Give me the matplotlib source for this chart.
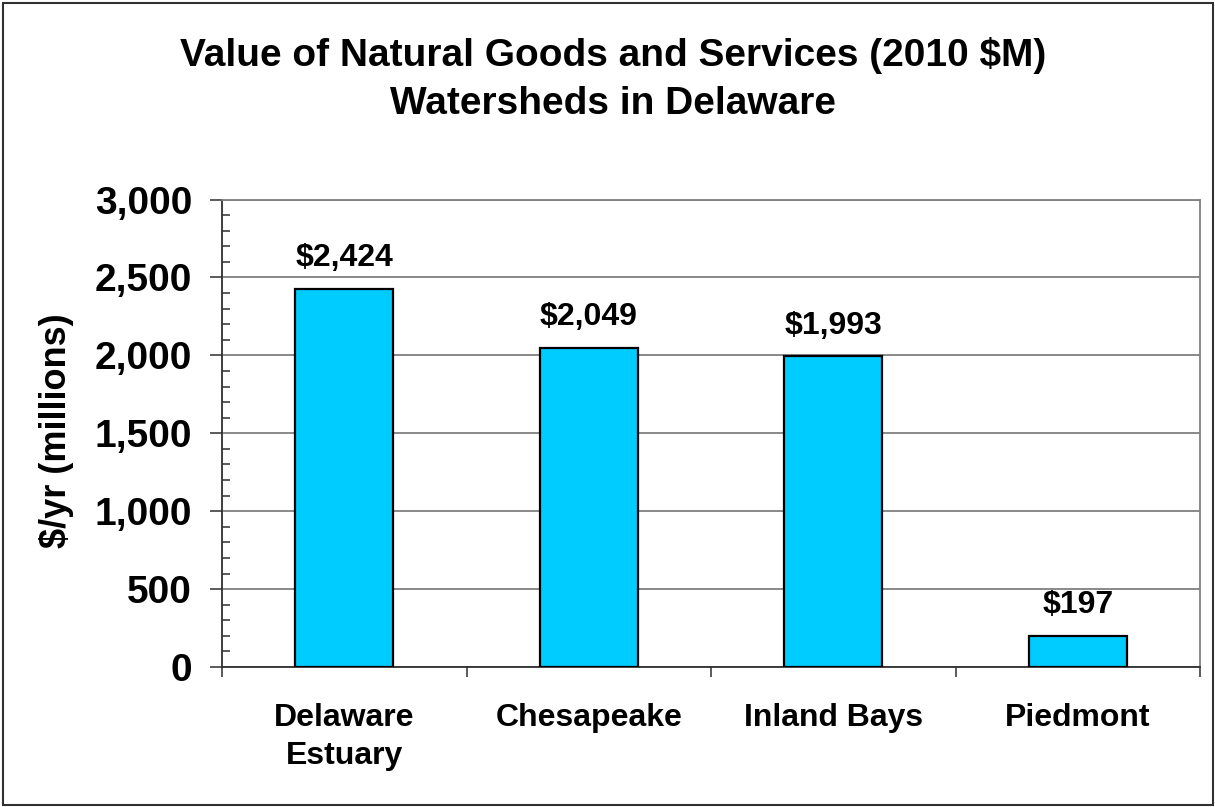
import matplotlib
matplotlib.use("Agg")
import matplotlib.pyplot as plt
from matplotlib.ticker import MultipleLocator, FuncFormatter, FixedLocator, NullFormatter
from matplotlib.patches import Rectangle

# Watershed values (2010 $M per year)
watersheds = ["Delaware\nEstuary", "Chesapeake", "Inland Bays", "Piedmont"]
values = [2424, 2049, 1993, 197]
value_labels = ["$2,424", "$2,049", "$1,993", "$197"]

title_lines = ["Value of Natural Goods and Services (2010 $M)", "Watersheds in Delaware"]
y_label = "$/yr (millions)"

plt.rcParams["font.family"] = ["Liberation Sans", "DejaVu Sans"]
plt.rcParams["font.weight"] = "bold"

W, H = 1215, 807
fig = plt.figure(figsize=(W / 100, H / 100), dpi=100)
fig.patch.set_facecolor("white")

ax = fig.add_axes([222 / W, 1 - 667 / H, (1200 - 222) / W, (667 - 199.5) / H])

x = list(range(len(values)))
ax.bar(x, values, width=0.4, color="#00CCFF", edgecolor="black", linewidth=1.6, zorder=3)

for xi, v, lab in zip(x, values, value_labels):
    ax.annotate(lab, (xi, v), xytext=(0, 16.5), textcoords="offset points",
                ha="center", va="baseline", fontsize=23, fontweight="bold")

ax.set_xlim(-0.5, len(values) - 0.5)
ax.set_ylim(0, 3000)

# y axis: major ticks outward, minor ticks inward
ax.yaxis.set_major_locator(MultipleLocator(500))
ax.yaxis.set_minor_locator(MultipleLocator(100))
ax.yaxis.set_major_formatter(FuncFormatter(lambda v, p: f"{int(v):,}"))
ax.tick_params(axis="y", which="major", direction="out", length=8.6, width=1.2,
               color="#404040", labelsize=28, pad=13)
ax.tick_params(axis="y", which="minor", direction="in", length=5.8, width=1.2, color="#404040")
for t in ax.get_yticklabels():
    t.set_fontweight("bold")

# x axis: tick marks at category boundaries, labels at centres
ax.xaxis.set_major_locator(FixedLocator([i - 0.5 for i in range(len(values) + 1)]))
ax.xaxis.set_major_formatter(NullFormatter())
ax.xaxis.set_minor_locator(FixedLocator(x))
ax.set_xticklabels(watersheds, minor=True)
ax.tick_params(axis="x", which="major", direction="out", length=7.5, width=1.2, color="#404040")
ax.tick_params(axis="x", which="minor", length=0, labelsize=23, pad=26)
for t in ax.get_xticklabels(minor=True):
    t.set_fontweight("bold")
    t.set_linespacing(1.35)
    t.set_va("top")

ax.grid(axis="y", which="major", color="#808080", linewidth=1.3, zorder=0)
ax.set_axisbelow(True)

ax.spines["left"].set_color("#303030")
ax.spines["bottom"].set_color("#303030")
ax.spines["left"].set_linewidth(1.3)
ax.spines["bottom"].set_linewidth(1.3)
ax.spines["top"].set_color("#808080")
ax.spines["right"].set_color("#808080")
ax.spines["top"].set_linewidth(1.3)
ax.spines["right"].set_linewidth(1.3)

fig.text(57 / W, 1 - 430.5 / H, y_label, rotation=90, ha="center", va="center",
         fontsize=26, fontweight="bold")

fig.text(613 / W, 1 - 66 / H, title_lines[0], ha="center", va="baseline",
         fontsize=28, fontweight="bold")
fig.text(613 / W, 1 - 114 / H, title_lines[1], ha="center", va="baseline",
         fontsize=28, fontweight="bold")

# outer chart border
fig.add_artist(Rectangle((2.5 / W, 2.5 / H), (W - 5) / W, (H - 5) / H,
                         transform=fig.transFigure, fill=False,
                         edgecolor="#303030", linewidth=1.5))

fig.savefig("out.png", dpi=100, facecolor="white")
